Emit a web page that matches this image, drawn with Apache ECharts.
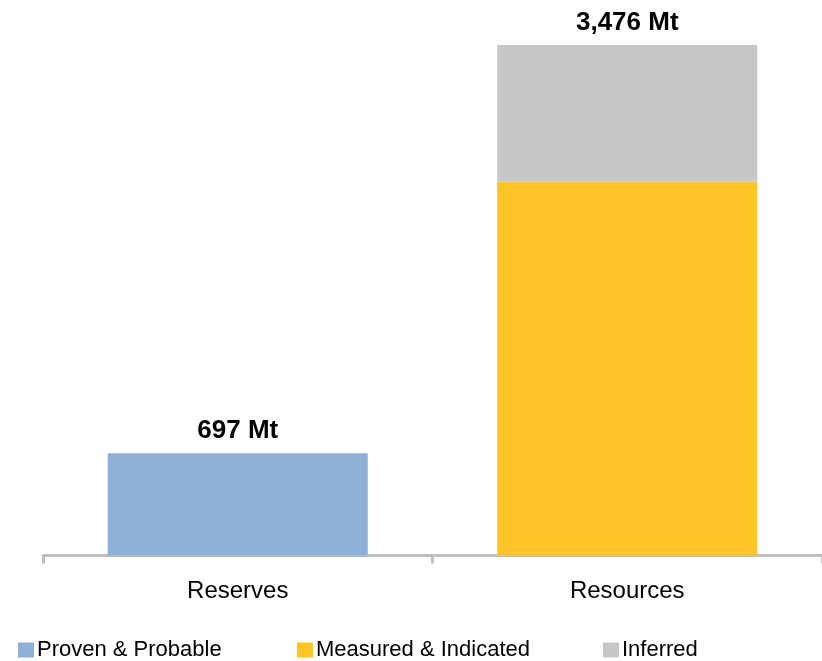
<!DOCTYPE html>
<html>
<head>
<meta charset="utf-8">
<script src="https://cdn.jsdelivr.net/npm/echarts@6/dist/echarts.min.js"></script>
<style>
  html, body { margin: 0; padding: 0; background: #ffffff; }
  #chart { width: 822px; height: 661px; }
</style>
</head>
<body>
<div id="chart"></div>
<script>
// Tonnage categories and stacked components (million tonnes)
const categories = ['Reserves', 'Resources'];
const provenProbable = [697, null];
const measuredIndicated = [null, 2547];
const inferred = [null, 929];

const seriesNames = ['Proven & Probable', 'Measured & Indicated', 'Inferred'];
const colors = ['#8FB0D7', '#FFC428', '#C6C7C9'];

const FONT = '"Liberation Sans", Arial, sans-serif';

function fmtMt(v) {
  return v.toLocaleString('en-US') + ' Mt';
}

// Total of each stacked column, for the label above the top segment
const totals = categories.map((_, i) =>
  (provenProbable[i] || 0) + (measuredIndicated[i] || 0) + (inferred[i] || 0));

const valueLabel = {
  show: true,
  position: 'top',
  distance: 9,
  fontFamily: FONT,
  fontSize: 26,
  fontWeight: 'bold',
  color: '#000000',
  formatter: p => fmtMt(totals[p.dataIndex])
};

function legendAt(name, left) {
  return {
    data: [name],
    left: left,
    top: 639,
    icon: 'rect',
    itemWidth: 16,
    itemHeight: 15,
    padding: 0,
    selectedMode: false,
    textStyle: { fontFamily: FONT, fontSize: 22, color: '#000000', padding: [0, 0, 0, -2] }
  };
}

const chart = echarts.init(document.getElementById('chart'), null, { renderer: 'canvas' });
chart.setOption({
  animation: false,
  backgroundColor: '#ffffff',
  grid: { left: 43, right: 0, top: 0, bottom: 105.5, containLabel: false },
  legend: [
    legendAt(seriesNames[0], 18),
    legendAt(seriesNames[1], 297),
    legendAt(seriesNames[2], 603)
  ],
  xAxis: {
    type: 'category',
    data: categories,
    axisLine: { show: true, lineStyle: { color: '#C0C0C0', width: 3 } },
    axisTick: { show: true, length: 8, lineStyle: { color: '#C0C0C0', width: 3 } },
    axisLabel: { fontFamily: FONT, fontSize: 24, color: '#000000', margin: 24 }
  },
  yAxis: {
    type: 'value',
    min: 0,
    max: 3783,
    show: false,
    splitLine: { show: false }
  },
  series: [
    {
      name: seriesNames[0],
      type: 'bar',
      stack: 'total',
      barWidth: 260,
      data: provenProbable,
      itemStyle: { color: colors[0] },
      label: valueLabel
    },
    {
      name: seriesNames[1],
      type: 'bar',
      stack: 'total',
      barWidth: 260,
      data: measuredIndicated,
      itemStyle: { color: colors[1] }
    },
    {
      name: seriesNames[2],
      type: 'bar',
      stack: 'total',
      barWidth: 260,
      data: inferred,
      itemStyle: { color: colors[2] },
      label: valueLabel
    }
  ]
});
</script>
</body>
</html>
